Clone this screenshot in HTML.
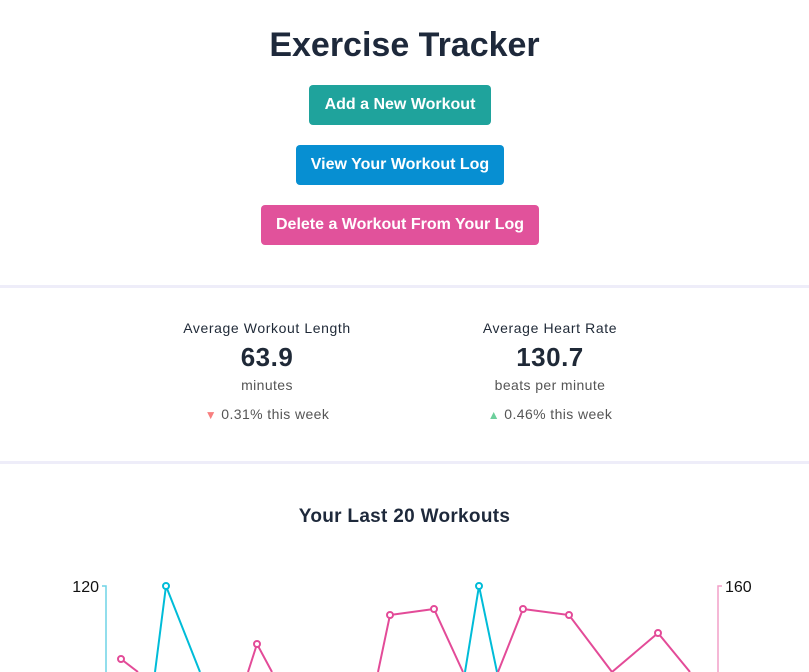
<!DOCTYPE html>
<html><head><meta charset="utf-8"><style>
body{margin:0;width:809px;height:672px;overflow:hidden;background:#fff;font-family:"Liberation Sans",sans-serif;color:#1f2937;position:relative}
.a{position:absolute}
h1{position:absolute;top:24px;left:0;width:809px;margin:0;text-align:center;font-size:34px;font-weight:bold;color:#1e293b;line-height:42px}
.btn{position:absolute;color:#fff;font-size:16px;font-weight:bold;text-align:center;line-height:40px;border-radius:4px;height:40px}
.sep{position:absolute;left:0;width:809px;height:3px;background:#eeedf9}
.c{position:absolute;text-align:center;width:240px}
</style></head><body>
<h1>Exercise Tracker</h1>
<div class="btn" style="left:309px;top:85px;width:182px;background:#1fa39c">Add a New Workout</div>
<div class="btn" style="left:296px;top:145px;width:208px;background:#078fd2">View Your Workout Log</div>
<div class="btn" style="left:261px;top:205px;width:278px;background:#e1529b">Delete a Workout From Your Log</div>
<div class="sep" style="top:285px"></div>
<div class="c" style="left:147px;top:320px;font-size:14px;letter-spacing:0.6px">Average Workout Length</div>
<div class="c" style="left:147px;top:342px;font-size:26px;font-weight:bold;letter-spacing:0.5px">63.9</div>
<div class="c" style="left:147px;top:377px;font-size:14px;color:#555;letter-spacing:0.4px">minutes</div>
<div class="c" style="left:147px;top:406px;font-size:14px;color:#555;letter-spacing:0.4px"><span style="color:#f87f7f;font-size:12px">▼</span> 0.31% this week</div>
<div class="c" style="left:430px;top:320px;font-size:14px;letter-spacing:0.6px">Average Heart Rate</div>
<div class="c" style="left:430px;top:342px;font-size:26px;font-weight:bold;letter-spacing:0.5px">130.7</div>
<div class="c" style="left:430px;top:377px;font-size:14px;color:#555;letter-spacing:0.4px">beats per minute</div>
<div class="c" style="left:430px;top:406px;font-size:14px;color:#555;letter-spacing:0.4px"><span style="color:#6dcf9c;font-size:12px">▲</span> 0.46% this week</div>
<div class="sep" style="top:461px"></div>
<div class="a" style="left:0;width:809px;top:506px;text-align:center;font-size:19px;font-weight:bold;color:#1e293b;letter-spacing:0.3px">Your Last 20 Workouts</div>
<svg class="a" style="left:0;top:0" width="809" height="672">
<g font-family="Liberation Sans" font-size="16" fill="#111">
<text x="99" y="592" text-anchor="end">120</text>
<text x="725" y="592">160</text></g>
<path d="M102 586H106V672" stroke="#6fd3e6" fill="none" stroke-width="1.5"/>
<path d="M722 586H718V672" stroke="#f2a0c8" fill="none" stroke-width="1.5"/>
<g fill="none" stroke="#00bcd8" stroke-width="2">
<polyline points="155,672 166,586 200,672"/>
<polyline points="465,672 479,586 497,672"/></g>
<g fill="none" stroke="#e34b98" stroke-width="2">
<polyline points="121,659 138,672"/>
<polyline points="248,672 257,644 272,672"/>
<polyline points="378,672 390,615 434,609 463,672"/>
<polyline points="498,672 523,609 569,615 612,672 658,633 690,672"/></g>
<g fill="#fff" stroke-width="2">
<circle cx="166" cy="586" r="3" stroke="#00bcd8"/><circle cx="479" cy="586" r="3" stroke="#00bcd8"/>
<g stroke="#e34b98"><circle cx="121" cy="659" r="3"/><circle cx="257" cy="644" r="3"/><circle cx="390" cy="615" r="3"/><circle cx="434" cy="609" r="3"/><circle cx="523" cy="609" r="3"/><circle cx="569" cy="615" r="3"/><circle cx="658" cy="633" r="3"/></g></g>
</svg>
</body></html>
